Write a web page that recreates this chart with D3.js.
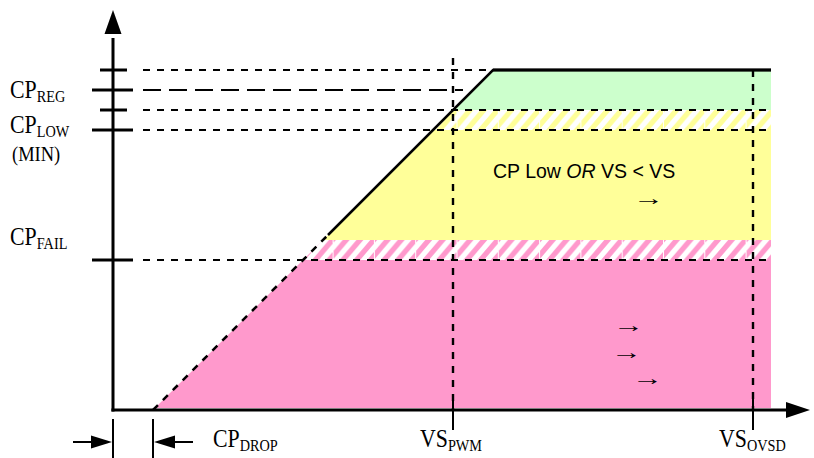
<!DOCTYPE html>
<html>
<head>
<meta charset="utf-8">
<script src="https://cdn.jsdelivr.net/npm/d3@7"></script>
<style>
  body { margin: 0; background: #fff; }
  .serif { font-family: "Liberation Serif", "Times New Roman", serif; }
  .sans { font-family: "Liberation Sans", Arial, sans-serif; }
</style>
</head>
<body>
<div id="chart"></div>
<script>
// ---- data (chart units: VS on x, CP on y) ----
var levelNames  = ["CP_REG_HI", "CP_REG", "CP_LOW_HI", "CP_LOW", "CP_FAIL"];
var levelValues = [85, 80, 75, 70, 37.5];
var cpDrop = 10;          // CP = VS - drop
var cpMax = 85;           // regulated plateau
var vsEdge = 164.5;       // right end of the zones
var vsNames  = ["PWM", "OVSD"];
var vsValues = [85, 160];

var zoneNames = ["REG", "LOW_HYST", "LOW", "FAIL_HYST", "FAIL"];
var zoneLo    = [75, 70, 42.5, 37.5, 0.5];
var zoneHi    = [85, 75, 70, 42.5, 37.5];

var cpLabelMain = ["CP", "CP", "(MIN)", "CP"];
var cpLabelSub  = ["REG", "LOW", "", "FAIL"];
var cpLabelY    = [78, 69.25, 62.25, 41.25];

var botLabelMain = ["CP", "VS", "VS"];
var botLabelSub  = ["DROP", "PWM", "OVSD"];
var botLabelX    = [25, 76.75, 151.5];

var arrowX = [130, 125, 124.5, 129.75];
var arrowY = [52.5, 20.75, 14, 7.5];

// ---- layout ----
var width = 814, height = 458;
var x = d3.scaleLinear().domain([0, 174.25]).range([113, 810]);
var y = d3.scaleLinear().domain([0, 100]).range([410, 10]);

var zoneFill = {REG: "#ccffcc", LOW_HYST: "url(#hatchY)", LOW: "#ffff99",
                FAIL_HYST: "url(#hatchP)", FAIL: "#ff99cc"};

var svg = d3.select("#chart").append("svg")
    .attr("width", width).attr("height", height);

// hatch patterns (white "/" stripes)
var defs = svg.append("defs");
function hatch(id, color, top) {
  var W = 41.3, H = y(0) - y(5), p = W / 3, s = p * 0.5, sh = 17;
  var pat = defs.append("pattern").attr("id", id)
      .attr("patternUnits", "userSpaceOnUse")
      .attr("x", 456.5).attr("y", y(top))
      .attr("width", W).attr("height", H);
  pat.append("rect").attr("width", W).attr("height", H).attr("fill", color);
  for (var k = -3; k <= 4; k++) {
    var x0 = k * p;
    pat.append("polygon")
      .attr("points", [[x0, H], [x0 + s, H], [x0 + s + sh, 0], [x0 + sh, 0]].join(" "))
      .attr("fill", "#fff");
  }
  pat.append("rect").attr("x", 0).attr("width", 1).attr("height", H).attr("fill", "#fff");
}
hatch("hatchY", "#ffff99", 75);
hatch("hatchP", "#ff99cc", 42.5);

// zones, left edge follows CP = VS - drop
svg.selectAll("polygon.zone")
  .data(zoneNames)
  .enter().append("polygon")
    .attr("class", "zone")
    .attr("points", function(d, i) {
      var lo = zoneLo[i], hi = zoneHi[i];
      return [[x(hi + cpDrop), y(hi)], [x(vsEdge), y(hi)],
              [x(vsEdge), y(lo)], [x(lo + cpDrop), y(lo)]].join(" ");
    })
    .attr("fill", function(d) { return zoneFill[d]; });

// horizontal dashed level lines
var levelEnd = {CP_REG_HI: cpMax + cpDrop - 1, CP_REG: 87.5};
svg.selectAll("line.level")
  .data(levelNames)
  .enter().append("line")
    .attr("class", "level")
    .attr("x1", x(7.5))
    .attr("x2", function(d) { return x(levelEnd[d] !== undefined ? levelEnd[d] : vsEdge); })
    .attr("y1", function(d, i) { return y(levelValues[i]); })
    .attr("y2", function(d, i) { return y(levelValues[i]); })
    .attr("stroke", "#000")
    .attr("stroke-width", 2)
    .attr("stroke-dasharray", function(d) { return d == "CP_REG" ? "18,8" : "7,7"; });

// y-axis ticks
svg.selectAll("line.ytick")
  .data(levelNames)
  .enter().append("line")
    .attr("class", "ytick")
    .attr("x1", function(d) { return /_HI$/.test(d) ? x(0) - 13 : x(0) - 21; })
    .attr("x2", function(d) { return /_HI$/.test(d) ? x(0) + 14 : x(0) + 20; })
    .attr("y1", function(d, i) { return y(levelValues[i]); })
    .attr("y2", function(d, i) { return y(levelValues[i]); })
    .attr("stroke", "#000").attr("stroke-width", 3);

// vertical VS markers
var vsTop = [88, cpMax];
svg.selectAll("line.vs")
  .data(vsNames)
  .enter().append("line")
    .attr("class", "vs")
    .attr("x1", function(d, i) { return x(vsValues[i]); })
    .attr("x2", function(d, i) { return x(vsValues[i]); })
    .attr("y1", function(d, i) { return y(vsTop[i]); })
    .attr("y2", y(0))
    .attr("stroke", "#000").attr("stroke-width", 2.4)
    .attr("stroke-dasharray", "7,7");
svg.selectAll("line.vstick")
  .data(vsNames)
  .enter().append("line")
    .attr("x1", function(d, i) { return x(vsValues[i]); })
    .attr("x2", function(d, i) { return x(vsValues[i]); })
    .attr("y1", y(4)).attr("y2", y(-5))
    .attr("stroke", "#000").attr("stroke-width", 2);

// CP vs VS curve
var line = d3.line().x(function(d) { return x(d[0]); }).y(function(d) { return y(d[1]); });
var split = 43.75;
svg.append("path")
  .attr("d", line([[cpDrop, 0], [split + cpDrop, split]]))
  .attr("fill", "none").attr("stroke", "#000").attr("stroke-width", 2.5)
  .attr("stroke-dasharray", "7,7");
svg.append("path")
  .attr("d", line([[split + cpDrop, split], [cpMax + cpDrop, cpMax], [vsEdge, cpMax]]))
  .attr("fill", "none").attr("stroke", "#000").attr("stroke-width", 2.5);
svg.append("path")
  .attr("d", line([[cpMax + cpDrop, cpMax], [vsEdge, cpMax]]))
  .attr("fill", "none").attr("stroke", "#000").attr("stroke-width", 3);

// axes with arrowheads
svg.append("line").attr("x1", x(0)).attr("x2", x(0)).attr("y1", y(-0.4)).attr("y2", y(93))
  .attr("stroke", "#000").attr("stroke-width", 3);
svg.append("line").attr("x1", x(-0.4)).attr("x2", x(168.5)).attr("y1", y(0)).attr("y2", y(0))
  .attr("stroke", "#000").attr("stroke-width", 3);
svg.append("polygon")
  .attr("points", [[x(0), y(100)], [x(0) - 8.5, y(94)], [x(0) + 8.5, y(94)]].join(" "));
svg.append("polygon")
  .attr("points", [[x(174.25), y(0)], [x(168.25), y(0) - 8], [x(168.25), y(0) + 8]].join(" "));

// CP drop dimension marker
[0, cpDrop].forEach(function(v) {
  svg.append("line").attr("x1", x(v)).attr("x2", x(v)).attr("y1", y(-2.25)).attr("y2", y(-12))
    .attr("stroke", "#000").attr("stroke-width", 2);
});
svg.append("line").attr("x1", x(-10)).attr("x2", x(-4)).attr("y1", y(-8)).attr("y2", y(-8))
  .attr("stroke", "#000").attr("stroke-width", 2);
svg.append("polygon")
  .attr("points", [[x(0) - 1, y(-8)], [x(-5.5), y(-8) - 6.5], [x(-5.5), y(-8) + 6.5]].join(" "));
svg.append("line").attr("x1", x(cpDrop + 4)).attr("x2", x(cpDrop + 10)).attr("y1", y(-8)).attr("y2", y(-8))
  .attr("stroke", "#000").attr("stroke-width", 2);
svg.append("polygon")
  .attr("points", [[x(cpDrop) + 1, y(-8)], [x(cpDrop + 5.5), y(-8) - 6.5], [x(cpDrop + 5.5), y(-8) + 6.5]].join(" "));

// serif labels with subscripts (slightly condensed)
function subLabel(px, py, main, sub, size) {
  var t = svg.append("g")
      .attr("transform", "translate(" + px + "," + py + ") scale(0.84,1)")
    .append("text").attr("class", "serif")
      .attr("font-size", size || 26).attr("fill", "#000");
  t.append("tspan").text(main);
  if (sub) t.append("tspan").attr("font-size", 17).attr("dy", 4).text(sub);
}
cpLabelMain.forEach(function(m, i) {
  subLabel(i == 2 ? 12 : 10, y(cpLabelY[i]), m, cpLabelSub[i], i == 2 ? 22 : 26);
});
botLabelMain.forEach(function(m, i) {
  subLabel(x(botLabelX[i]), y(-9.25), m, botLabelSub[i]);
});

// zone text
var zt = svg.append("text").attr("class", "sans").attr("font-size", 19.5)
    .attr("x", x(95)).attr("y", y(58)).attr("fill", "#000");
zt.append("tspan").text("CP Low ");
zt.append("tspan").attr("font-style", "italic").text("OR");
zt.append("tspan").text(" VS < VS");

// leftover arrow glyphs (stretched horizontally to the reference width)
svg.selectAll("g.arrow")
  .data(arrowX)
  .enter().append("g")
    .attr("class", "arrow")
    .attr("transform", function(d, i) {
      return "translate(" + x(d) + "," + (y(arrowY[i]) + 5) + ") scale(1.55,1)";
    })
  .append("text")
    .attr("class", "serif")
    .attr("font-size", 20)
    .text("\u2192");
</script>
</body>
</html>
